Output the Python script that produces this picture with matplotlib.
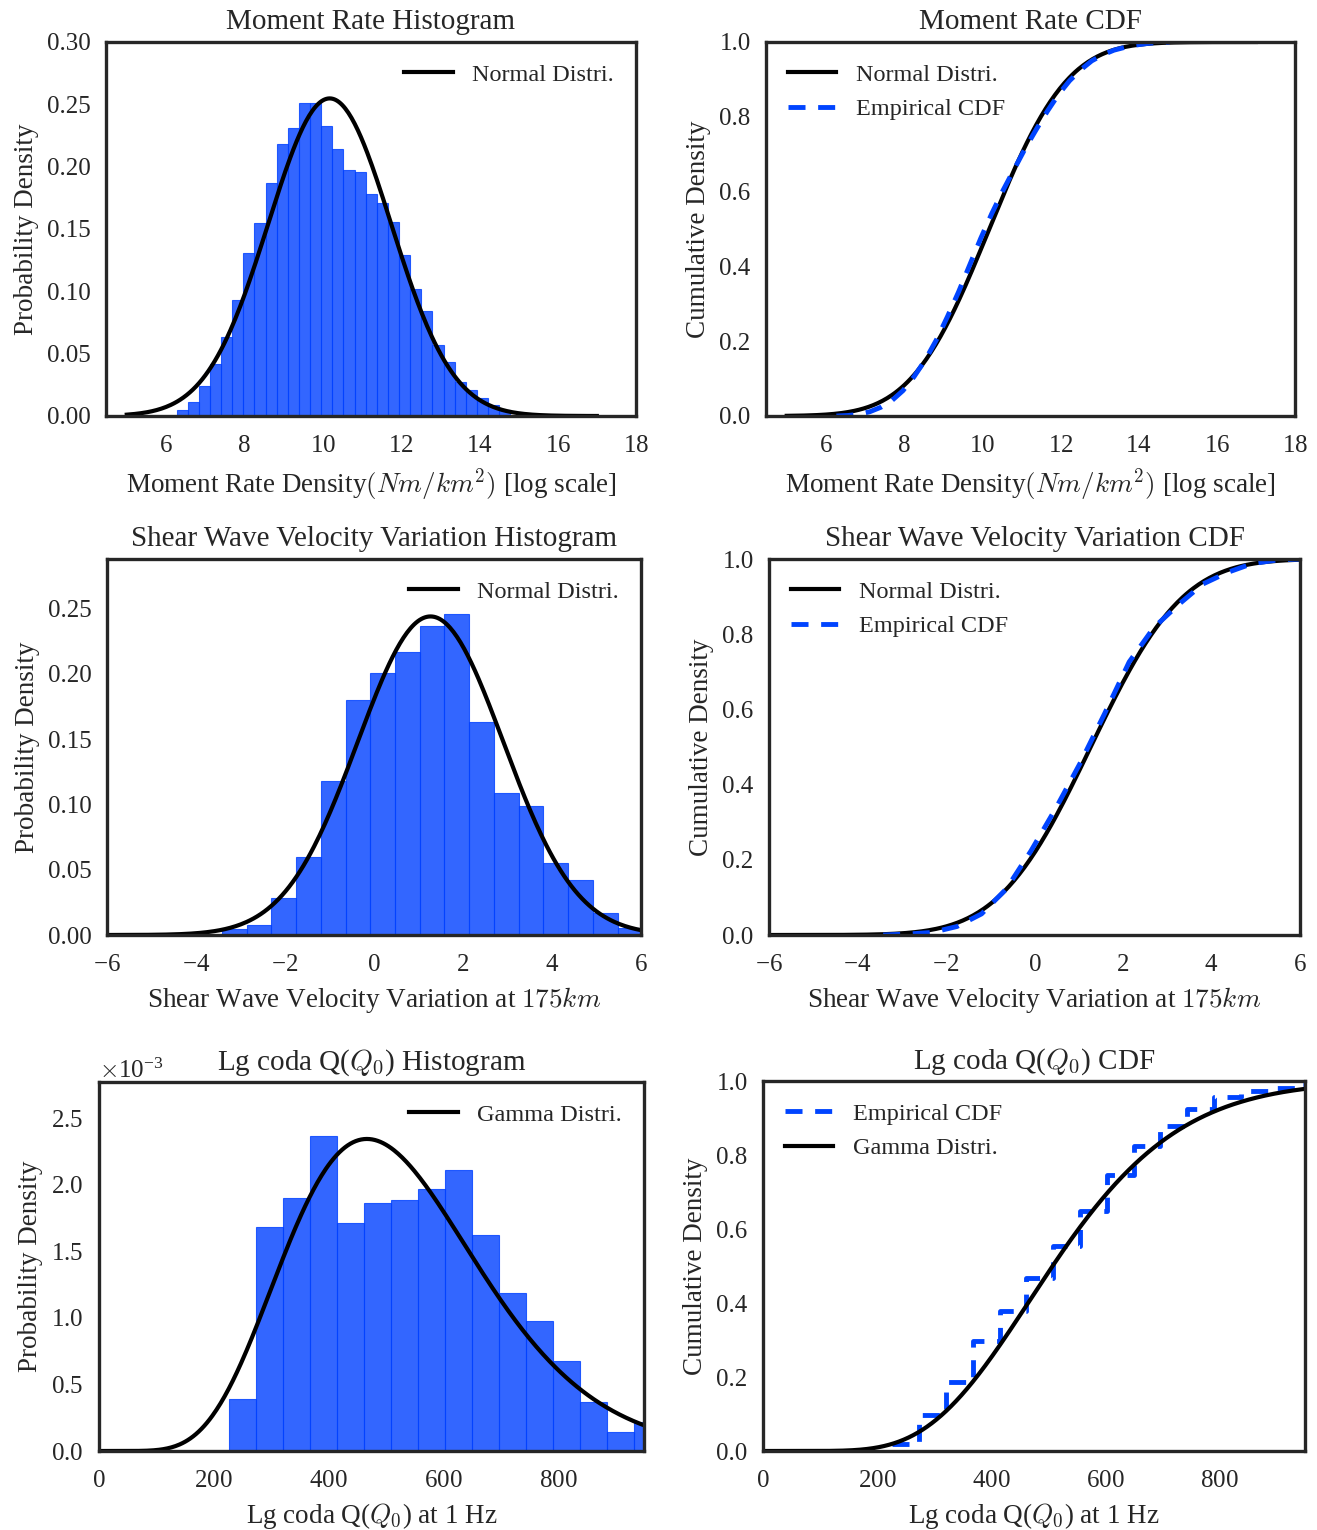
import numpy as np
import math
import matplotlib
matplotlib.use("Agg")
import matplotlib.pyplot as plt

# ------------- data -------------
# moment rate histogram (log10 of Nm/km^2)
mr_start = 6.27
mr_width = 0.284
mr_dens = [0.0045, 0.011, 0.024, 0.042, 0.063, 0.093, 0.131, 0.155, 0.187, 0.218,
           0.231, 0.251, 0.251, 0.233, 0.214, 0.197, 0.196, 0.178, 0.171, 0.156,
           0.129, 0.102, 0.084, 0.057, 0.043, 0.027, 0.021, 0.0144, 0.009, 0.005]
mr_mu, mr_sigma = 10.18, 1.566

# shear wave velocity variation at 175 km
sw_start = -3.42
sw_width = 0.556
sw_dens = [0.0044, 0.008, 0.028, 0.060, 0.118, 0.180, 0.2005, 0.2167, 0.237, 0.246,
           0.163, 0.109, 0.0987, 0.055, 0.0418, 0.0169, 0.005]
sw_mu, sw_sigma = 1.27, 1.635

# Lg coda Q0 at 1 Hz
q_start = 226.7
q_width = 47.0
q_dens = [0.389, 1.687, 1.905, 2.367, 1.712, 1.860, 1.885, 1.968, 2.114, 1.624,
          1.190, 0.977, 0.675, 0.369, 0.143, 0.218]  # x 1e-3
q_shape, q_scale = 8.7, 60.65

BAR = "#0040ff"
DASH = "#0044ff"
TXT = "#262626"

plt.rcParams["font.family"] = ["Liberation Serif", "DejaVu Serif"]
plt.rcParams["mathtext.fontset"] = "cm"
plt.rcParams["axes.formatter.use_mathtext"] = True
plt.rcParams["text.color"] = TXT
plt.rcParams["axes.labelcolor"] = TXT
plt.rcParams["xtick.color"] = TXT
plt.rcParams["ytick.color"] = TXT
plt.rcParams["xtick.major.size"] = 0
plt.rcParams["ytick.major.size"] = 0
plt.rcParams["xtick.major.pad"] = 14
plt.rcParams["ytick.major.pad"] = 11
plt.rcParams["axes.labelpad"] = 6
plt.rcParams["axes.titlepad"] = 9
plt.rcParams["font.size"] = 18

W, H = 1317, 1530
fig = plt.figure(figsize=(W / 100, H / 100), dpi=100)


def box(l, t, r, b):
    ax = fig.add_axes([l / W, 1 - b / H, (r - l) / W, (b - t) / H])
    for s in ax.spines.values():
        s.set_linewidth(2.4)
        s.set_color(TXT)
    ax.tick_params(labelsize=18)
    return ax


def norm_pdf(x, mu, s):
    return np.exp(-0.5 * ((x - mu) / s) ** 2) / (s * np.sqrt(2 * np.pi))


def norm_cdf(x, mu, s):
    return np.array([0.5 * (1 + math.erf((v - mu) / (s * math.sqrt(2)))) for v in x])


def gamma_pdf(x, k, th):
    x = np.asarray(x, dtype=float)
    out = np.zeros_like(x)
    m = x > 0
    out[m] = np.exp((k - 1) * np.log(x[m]) - x[m] / th - math.lgamma(k) - k * np.log(th))
    return out


def hist(ax, start, width, dens):
    edges = start + width * np.arange(len(dens) + 1)
    ax.bar(edges[:-1], dens, width=width, align="edge", color=BAR, alpha=0.8,
           edgecolor=BAR, linewidth=0.8)
    return edges


def legend(ax, loc):
    ax.legend(loc=loc, frameon=False, fontsize=17.5, handlelength=2.0,
              borderaxespad=0.5, labelspacing=0.5)


titlesize = 21
labelsize = 19.5

# ---- moment rate ----
ax1 = box(106, 42, 636, 416)
hist(ax1, mr_start, mr_width, np.array(mr_dens))
xx = np.linspace(5, 17, 300)
ax1.plot(xx, norm_pdf(xx, mr_mu, mr_sigma), color="k", lw=3, label="Normal Distri.")
ax1.set_xlim(4.47, 18)
ax1.set_ylim(0, 0.30)
ax1.set_xticks([6, 8, 10, 12, 14, 16, 18])
ax1.set_yticks(np.arange(0, 0.31, 0.05))
ax1.yaxis.set_major_formatter(matplotlib.ticker.FormatStrFormatter("%.2f"))
ax1.set_title("Moment Rate Histogram", fontsize=titlesize)
ax1.set_xlabel(r"Moment Rate Density$(Nm/km^2)$ [log scale]", fontsize=labelsize)
ax1.set_ylabel("Probability Density", fontsize=labelsize)
legend(ax1, "upper right")

ax2 = box(766, 42, 1295, 416)
edges = mr_start + mr_width * np.arange(len(mr_dens) + 1)
cum = np.concatenate([[0], np.cumsum(np.array(mr_dens) * mr_width)])
cum = cum / cum[-1]
ax2.plot(xx, norm_cdf(xx, mr_mu, mr_sigma), color="k", lw=3, label="Normal Distri.")
ax2.plot(edges, cum, color=DASH, lw=3.5, ls=(0, (3.5, 2.6)), label="Empirical CDF")
ax2.set_xlim(4.47, 18)
ax2.set_ylim(0, 1.0)
ax2.set_xticks([6, 8, 10, 12, 14, 16, 18])
ax2.set_yticks(np.arange(0, 1.01, 0.2))
ax2.yaxis.set_major_formatter(matplotlib.ticker.FormatStrFormatter("%.1f"))
ax2.set_title("Moment Rate CDF", fontsize=titlesize)
ax2.set_xlabel(r"Moment Rate Density$(Nm/km^2)$ [log scale]", fontsize=labelsize)
ax2.set_ylabel("Cumulative Density", fontsize=labelsize)
legend(ax2, "upper left")

# ---- shear wave ----
ax3 = box(107, 559, 641, 935)
hist(ax3, sw_start, sw_width, np.array(sw_dens))
xs = np.linspace(-6, 6, 300)
ax3.plot(xs, norm_pdf(xs, sw_mu, sw_sigma), color="k", lw=3, label="Normal Distri.")
ax3.set_xlim(-6, 6)
ax3.set_ylim(0, 0.288)
ax3.set_yticks(np.arange(0, 0.26, 0.05))
ax3.yaxis.set_major_formatter(matplotlib.ticker.FormatStrFormatter("%.2f"))
ax3.set_title("Shear Wave Velocity Variation Histogram", fontsize=titlesize)
ax3.set_xlabel(r"Shear Wave Velocity Variation at $175km$", fontsize=labelsize)
ax3.set_ylabel("Probability Density", fontsize=labelsize)
legend(ax3, "upper right")

ax4 = box(769, 559, 1300, 935)
edges = sw_start + sw_width * np.arange(len(sw_dens) + 1)
cum = np.concatenate([[0], np.cumsum(np.array(sw_dens) * sw_width)])
cum = cum / cum[-1]
ax4.plot(xs, norm_cdf(xs, sw_mu, sw_sigma), color="k", lw=3, label="Normal Distri.")
ax4.plot(edges, cum, color=DASH, lw=3.5, ls=(0, (3.5, 2.6)), label="Empirical CDF")
ax4.set_xlim(-6, 6)
ax4.set_ylim(0, 1.0)
ax4.set_yticks(np.arange(0, 1.01, 0.2))
ax4.yaxis.set_major_formatter(matplotlib.ticker.FormatStrFormatter("%.1f"))
ax4.set_title("Shear Wave Velocity Variation CDF", fontsize=titlesize)
ax4.set_xlabel(r"Shear Wave Velocity Variation at $175km$", fontsize=labelsize)
ax4.set_ylabel("Cumulative Density", fontsize=labelsize)
legend(ax4, "upper left")

# ---- Lg coda Q ----
qd = np.array(q_dens) * 1e-3
ax5 = box(99, 1082, 644, 1451)
hist(ax5, q_start, q_width, qd)
xq = np.linspace(0, 950, 400)
ax5.plot(xq, gamma_pdf(xq, q_shape, q_scale), color="k", lw=3, label="Gamma Distri.")
ax5.set_xlim(0, 950)
ax5.set_ylim(0, 2.773e-3)
ax5.set_xticks([0, 200, 400, 600, 800])
ax5.set_yticks(np.arange(0, 2.6e-3, 0.5e-3))
fmt = matplotlib.ticker.ScalarFormatter(useMathText=True)
fmt.set_powerlimits((-2, 2))
ax5.yaxis.set_major_formatter(fmt)
ax5.yaxis.get_offset_text().set_fontsize(18)
ax5.set_title(r"Lg coda Q($Q_0$) Histogram", fontsize=titlesize)
ax5.set_xlabel(r"Lg coda Q($Q_0$) at 1 Hz", fontsize=labelsize)
ax5.set_ylabel("Probability Density", fontsize=labelsize)
legend(ax5, "upper right")

ax6 = box(763, 1081, 1305, 1451)
edges = q_start + q_width * np.arange(len(q_dens) + 1)
cum = np.cumsum(qd * q_width)
xf = np.linspace(0, 950, 2000)
gcdf = np.concatenate([[0], np.cumsum(0.5 * (gamma_pdf(xf[1:], q_shape, q_scale)
                                             + gamma_pdf(xf[:-1], q_shape, q_scale)) * np.diff(xf))])
ax6.step(np.append(edges[:-1], 950), np.append(cum, cum[-1]), where="post", color=DASH,
         lw=3.5, ls=(0, (3.5, 2.6)), label="Empirical CDF")
ax6.plot(xf, gcdf, color="k", lw=3, label="Gamma Distri.")
ax6.set_xlim(0, 950)
ax6.set_ylim(0, 1.0)
ax6.set_xticks([0, 200, 400, 600, 800])
ax6.set_yticks(np.arange(0, 1.01, 0.2))
ax6.yaxis.set_major_formatter(matplotlib.ticker.FormatStrFormatter("%.1f"))
ax6.set_title(r"Lg coda Q($Q_0$) CDF", fontsize=titlesize)
ax6.set_xlabel(r"Lg coda Q($Q_0$) at 1 Hz", fontsize=labelsize)
ax6.set_ylabel("Cumulative Density", fontsize=labelsize)
legend(ax6, "upper left")

fig.savefig("out.png", dpi=100)
